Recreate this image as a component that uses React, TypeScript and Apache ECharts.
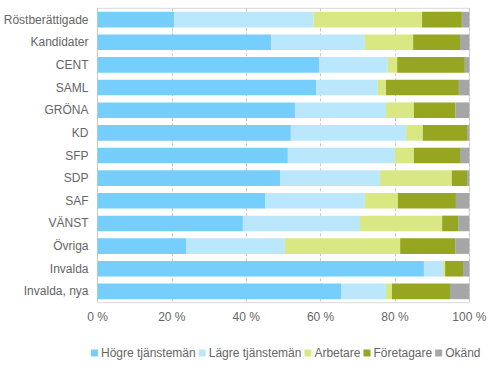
import React, { useEffect, useRef } from "react";
import * as echarts from "echarts";

const categories = [
  "Röstberättigade",
  "Kandidater",
  "CENT",
  "SAML",
  "GRÖNA",
  "KD",
  "SFP",
  "SDP",
  "SAF",
  "VÄNST",
  "Övriga",
  "Invalda",
  "Invalda, nya",
];

const seriesNames = ["Högre tjänstemän", "Lägre tjänstemän", "Arbetare", "Företagare", "Okänd"];

const hogre = [20.6, 46.7, 59.6, 58.8, 53.1, 52.0, 51.2, 49.1, 45.1, 39.1, 23.8, 87.8, 65.5];
const lagre = [37.5, 25.2, 18.5, 16.6, 24.5, 31.0, 28.8, 26.9, 26.8, 31.5, 26.6, 5.1, 12.1];
const arbetare = [29.2, 13.0, 2.5, 2.2, 7.5, 4.5, 5.1, 19.3, 8.9, 22.1, 31.0, 0.6, 1.6];
const foretagare = [10.7, 12.6, 18.2, 19.6, 11.2, 11.9, 12.4, 4.1, 15.6, 4.3, 14.8, 4.8, 15.6];
const okand = [2.0, 2.5, 1.2, 2.8, 3.7, 0.6, 2.5, 0.6, 3.6, 3.0, 3.8, 1.7, 5.2];

const xTicks = { min: 0, max: 100, interval: 20 };

const colors = ["#75CEFB", "#BAE7FC", "#DAE883", "#96A621", "#A6A6A6"];

export default function App() {
  const ref = useRef<HTMLDivElement>(null);
  useEffect(() => {
    if (!ref.current) return;
    const chart = echarts.init(ref.current, null, { renderer: "svg" });
    const values = [hogre, lagre, arbetare, foretagare, okand];
    const font = "'Liberation Sans', Arial, sans-serif";
    chart.setOption({
      animation: false,
      textStyle: { fontFamily: font },
      grid: { left: 97.5, right: 30.7, top: 8.3, bottom: 74.3, show: true, borderColor: "#D9D9D9", borderWidth: 1 },
      legend: {
        bottom: 13,
        left: 86,
        itemWidth: 7,
        itemHeight: 7,
        itemGap: 3,
        icon: "rect",
        textStyle: { fontFamily: font, fontSize: 12, color: "#666666", padding: [0, 0, 0, -2] },
        data: seriesNames,
      },
      xAxis: {
        type: "value",
        min: xTicks.min,
        max: xTicks.max,
        interval: xTicks.interval,
        axisLine: { show: false },
        axisTick: { show: false },
        splitLine: { show: true, lineStyle: { color: "#C8C8C8", type: [3, 2], width: 1 } },
        axisLabel: { formatter: "{value} %", fontSize: 12, color: "#666666", margin: 8, fontFamily: font },
      },
      yAxis: {
        type: "category",
        data: categories,
        inverse: true,
        axisLine: { show: true, lineStyle: { color: "#C8C8C8", type: [3, 2] } },
        axisTick: { show: false },
        axisLabel: { fontSize: 12, color: "#666666", margin: 9, fontFamily: font },
      },
      series: seriesNames.map((name, i) => ({
        name,
        type: "bar",
        stack: "total",
        barCategoryGap: "31%",
        data: values[i],
        itemStyle: { color: colors[i] },
      })),
    });
    return () => chart.dispose();
  }, []);
  return <div ref={ref} style={{ width: 500, height: 377, position: "absolute", left: 0, top: 0 }} />;
}
